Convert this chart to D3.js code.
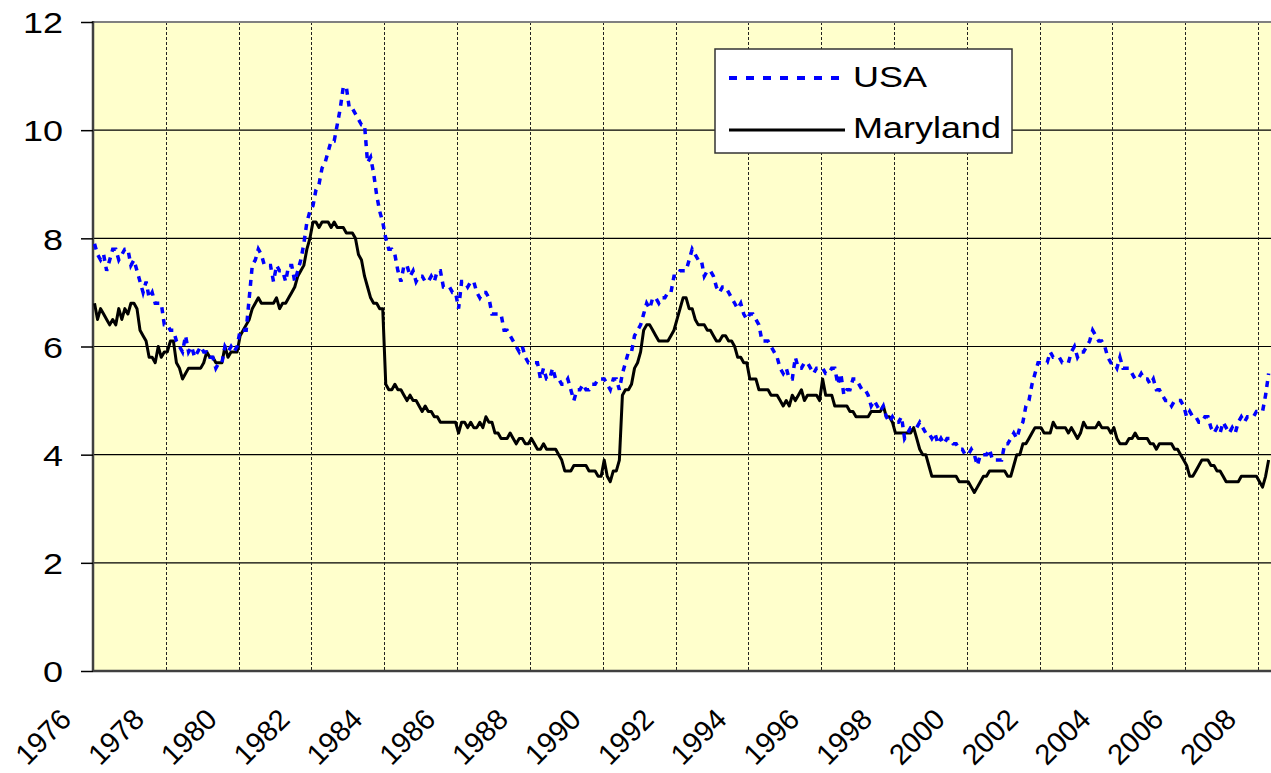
<!DOCTYPE html>
<html lang="en">
<head>
<meta charset="UTF-8">
<title>Unemployment rate: USA vs Maryland</title>
<script src="https://d3js.org/d3.v7.min.js"></script>
<style>
  body { margin: 0; background: #fff; }
  svg { display: block; font-family: "Liberation Sans", Arial, sans-serif; }
</style>
</head>
<body>
<svg id="chart" width="1271" height="773"></svg>
<script>
// monthly rates, Jan 1976 .. Apr 2008
const startYear = 1976;

const usaRate = [
  7.9,7.7,7.6,7.7,7.4,7.6,7.8,7.8,7.6,7.7,7.8,7.8,
  7.5,7.6,7.4,7.2,7.0,7.2,6.9,7.0,6.8,6.8,6.8,6.4,
  6.4,6.3,6.3,6.1,6.0,5.9,6.2,5.9,6.0,5.8,5.9,6.0,
  5.9,5.9,5.8,5.8,5.6,5.7,5.7,6.0,5.9,6.0,5.9,6.0,
  6.3,6.3,6.3,6.9,7.5,7.6,7.8,7.7,7.5,7.5,7.5,7.2,
  7.5,7.4,7.4,7.2,7.5,7.5,7.2,7.4,7.6,7.9,8.3,8.5,
  8.6,8.9,9.0,9.3,9.4,9.6,9.8,9.8,10.1,10.4,10.8,10.8,
  10.4,10.4,10.3,10.2,10.1,10.1,9.4,9.5,9.2,8.8,8.5,8.3,
  8.0,7.8,7.8,7.7,7.4,7.2,7.5,7.5,7.3,7.4,7.2,7.3,
  7.3,7.2,7.2,7.3,7.2,7.4,7.4,7.1,7.1,7.1,7.0,7.0,
  6.7,7.2,7.2,7.1,7.2,7.2,7.0,6.9,7.0,7.0,6.9,6.6,
  6.6,6.6,6.6,6.3,6.3,6.2,6.1,6.0,5.9,6.0,5.8,5.7,
  5.7,5.7,5.7,5.4,5.6,5.4,5.4,5.6,5.4,5.4,5.3,5.3,
  5.4,5.2,5.0,5.2,5.2,5.3,5.2,5.2,5.3,5.3,5.4,5.4,
  5.4,5.3,5.2,5.4,5.4,5.2,5.5,5.7,5.9,5.9,6.2,6.3,
  6.4,6.6,6.8,6.7,6.9,6.9,6.8,6.9,6.9,7.0,7.0,7.3,
  7.3,7.4,7.4,7.4,7.6,7.8,7.7,7.6,7.6,7.3,7.4,7.4,
  7.3,7.1,7.0,7.1,7.1,7.0,6.9,6.8,6.7,6.8,6.6,6.5,
  6.6,6.6,6.5,6.4,6.1,6.1,6.1,6.0,5.9,5.8,5.6,5.5,
  5.6,5.4,5.4,5.8,5.6,5.6,5.7,5.7,5.6,5.5,5.6,5.6,
  5.6,5.5,5.5,5.6,5.6,5.3,5.5,5.1,5.2,5.2,5.4,5.4,
  5.3,5.2,5.2,5.1,4.9,5.0,4.9,4.8,4.9,4.7,4.6,4.7,
  4.6,4.6,4.7,4.3,4.4,4.5,4.5,4.5,4.6,4.5,4.4,4.4,
  4.3,4.4,4.2,4.3,4.2,4.3,4.3,4.2,4.2,4.1,4.1,4.0,
  4.0,4.1,4.0,3.8,4.0,4.0,4.0,4.1,3.9,3.9,3.9,3.9,
  4.2,4.2,4.3,4.4,4.3,4.5,4.6,4.9,5.0,5.3,5.5,5.7,
  5.7,5.7,5.7,5.9,5.8,5.8,5.8,5.7,5.7,5.7,5.9,6.0,
  5.8,5.9,5.9,6.0,6.1,6.3,6.2,6.1,6.1,6.0,5.8,5.7,
  5.7,5.6,5.8,5.6,5.6,5.6,5.5,5.4,5.4,5.5,5.4,5.4,
  5.3,5.4,5.2,5.2,5.1,5.0,5.0,4.9,5.0,5.0,5.0,4.9,
  4.7,4.8,4.7,4.7,4.6,4.6,4.7,4.7,4.5,4.4,4.5,4.4,
  4.6,4.5,4.4,4.5,4.4,4.6,4.7,4.6,4.7,4.7,4.7,4.8,
  4.8,4.8,5.1,5.5
];

const mdRate = [
  6.8,6.5,6.7,6.6,6.5,6.4,6.5,6.4,6.7,6.5,6.7,6.6,
  6.8,6.8,6.7,6.3,6.2,6.1,5.8,5.8,5.7,6.0,5.8,5.9,
  5.9,6.1,6.1,5.7,5.6,5.4,5.5,5.6,5.6,5.6,5.6,5.6,
  5.7,5.9,5.8,5.8,5.7,5.7,5.7,6.0,5.8,5.9,5.9,5.9,
  6.2,6.3,6.4,6.5,6.7,6.8,6.9,6.8,6.8,6.8,6.8,6.8,
  6.9,6.7,6.8,6.8,6.9,7.0,7.1,7.3,7.4,7.5,7.8,8.0,
  8.3,8.3,8.2,8.3,8.3,8.3,8.2,8.3,8.2,8.2,8.2,8.1,
  8.1,8.1,8.0,7.7,7.6,7.3,7.1,6.9,6.8,6.8,6.7,6.7,
  5.3,5.2,5.2,5.3,5.2,5.2,5.1,5.0,5.1,5.0,5.0,4.9,
  4.8,4.9,4.8,4.8,4.7,4.7,4.6,4.6,4.6,4.6,4.6,4.6,
  4.4,4.6,4.6,4.5,4.6,4.5,4.5,4.6,4.5,4.7,4.6,4.6,
  4.4,4.4,4.3,4.3,4.3,4.4,4.3,4.2,4.3,4.3,4.2,4.2,
  4.3,4.2,4.1,4.1,4.2,4.1,4.1,4.1,4.1,4.0,3.9,3.7,
  3.7,3.7,3.8,3.8,3.8,3.8,3.8,3.7,3.7,3.7,3.6,3.6,
  3.9,3.6,3.5,3.7,3.7,3.9,5.1,5.2,5.2,5.3,5.6,5.7,
  5.9,6.3,6.4,6.4,6.3,6.2,6.1,6.1,6.1,6.1,6.2,6.3,
  6.5,6.7,6.9,6.9,6.7,6.7,6.5,6.4,6.4,6.4,6.3,6.3,
  6.2,6.1,6.1,6.2,6.2,6.1,6.1,6.0,5.8,5.8,5.7,5.7,
  5.4,5.4,5.4,5.2,5.2,5.2,5.2,5.1,5.1,5.1,5.0,4.9,
  5.0,4.9,5.1,5.0,5.1,5.2,5.0,5.1,5.1,5.1,5.1,5.0,
  5.4,5.1,5.1,5.1,4.9,4.9,4.9,4.9,4.9,4.8,4.8,4.7,
  4.7,4.7,4.7,4.7,4.8,4.8,4.8,4.8,4.9,4.7,4.7,4.6,
  4.4,4.4,4.4,4.4,4.4,4.4,4.5,4.3,4.1,4.0,4.0,3.8,
  3.6,3.6,3.6,3.6,3.6,3.6,3.6,3.6,3.6,3.5,3.5,3.5,
  3.5,3.4,3.3,3.4,3.5,3.6,3.6,3.7,3.7,3.7,3.7,3.7,
  3.7,3.6,3.6,3.8,4.0,4.0,4.2,4.2,4.3,4.4,4.5,4.5,
  4.5,4.4,4.4,4.4,4.6,4.5,4.5,4.5,4.5,4.4,4.5,4.4,
  4.3,4.4,4.6,4.5,4.5,4.5,4.5,4.6,4.5,4.5,4.5,4.4,
  4.5,4.3,4.2,4.2,4.2,4.3,4.3,4.4,4.3,4.3,4.3,4.3,
  4.2,4.2,4.1,4.2,4.2,4.2,4.2,4.2,4.1,4.1,4.0,3.9,
  3.8,3.6,3.6,3.7,3.8,3.9,3.9,3.9,3.8,3.8,3.7,3.7,
  3.6,3.5,3.5,3.5,3.5,3.5,3.6,3.6,3.6,3.6,3.6,3.6,
  3.5,3.4,3.6,3.9
];

const yearTicks = d3.range(1976, 2009, 2);
const rateTicks = [0, 2, 4, 6, 8, 10, 12];
const seriesNames = ["USA", "Maryland"];

const plotLeft = 93, plotTop = 22, plotBottom = 671, plotRight = 1271;

const svg = d3.select("#chart");

var x = d3.scaleLinear().domain([1976, 2008]).range([plotLeft, 1258]);
var y = d3.scaleLinear().domain([0, 12]).range([plotBottom, plotTop]);

// plot area
svg.append("rect")
  .attr("x", plotLeft).attr("y", plotTop)
  .attr("width", plotRight - plotLeft).attr("height", plotBottom - plotTop)
  .attr("fill", "#ffffcc");

svg.append("clipPath").attr("id", "plotclip")
  .append("rect")
  .attr("x", plotLeft).attr("y", plotTop)
  .attr("width", plotRight - plotLeft).attr("height", plotBottom - plotTop);

// horizontal gridlines
svg.append("g").selectAll("line")
  .data(rateTicks.filter(d => d > 0 && d < 12))
  .enter().append("line")
  .attr("x1", plotLeft).attr("x2", plotRight)
  .attr("y1", d => y(d)).attr("y2", d => y(d))
  .attr("stroke", "#000").attr("stroke-width", 1.2);

// vertical dashed gridlines
svg.append("g").selectAll("line")
  .data(yearTicks.filter(d => d > 1976))
  .enter().append("line")
  .attr("x1", d => Math.round(x(d)) + 0.5).attr("x2", d => Math.round(x(d)) + 0.5)
  .attr("y1", plotTop).attr("y2", plotBottom)
  .attr("stroke", "#222").attr("stroke-width", 1)
  .attr("stroke-dasharray", "3,2");

// frame: top edge, left and bottom axes
svg.append("line").attr("x1", plotLeft).attr("x2", plotRight).attr("y1", plotTop).attr("y2", plotTop)
  .attr("stroke", "#808080").attr("stroke-width", 2);
svg.append("line").attr("x1", plotLeft).attr("x2", plotRight).attr("y1", plotBottom).attr("y2", plotBottom)
  .attr("stroke", "#404040").attr("stroke-width", 2.5);
svg.append("line").attr("x1", plotLeft).attr("x2", plotLeft).attr("y1", plotTop - 1).attr("y2", plotBottom + 1)
  .attr("stroke", "#404040").attr("stroke-width", 2.5);

// y axis ticks and labels
var yAxis = svg.append("g")
  .attr("transform", "translate(" + plotLeft + ",0)")
  .call(d3.axisLeft(y).tickValues(rateTicks).tickSize(12).tickSizeOuter(0).tickFormat(d3.format("d")));
yAxis.select(".domain").remove();
yAxis.selectAll(".tick line").attr("stroke", "#000").attr("stroke-width", 1.5);
yAxis.selectAll(".tick text")
  .attr("x", -25).attr("dy", "0.36em")
  .attr("transform", "scale(1.2,1)")
  .attr("fill", "#000")
  .style("font-size", "30px")
  .style("font-family", "'Liberation Sans', Arial, sans-serif");

// x labels, rotated
svg.append("g").selectAll("text")
  .data(yearTicks)
  .enter().append("text")
  .attr("transform", d => "translate(" + (x(d) - 20) + ",721) rotate(-45)")
  .attr("text-anchor", "end")
  .style("font-size", "29px")
  .attr("fill", "#000")
  .text(d => d);

// series lines
const line = d3.line()
  .x((d, i) => x(startYear + (i + 0.5) / 12))
  .y(d => y(d));

var lines = svg.append("g").attr("clip-path", "url(#plotclip)");

lines.append("path")
  .datum(mdRate)
  .attr("d", line)
  .attr("fill", "none")
  .attr("stroke", "#000")
  .attr("stroke-width", 3)
  .attr("stroke-linejoin", "round");

lines.append("path")
  .datum(usaRate)
  .attr("d", line)
  .attr("fill", "none")
  .attr("stroke", "#0000ff")
  .attr("stroke-width", 3.5)
  .attr("stroke-dasharray", "6,6");

// legend
var legend = svg.append("g");
legend.append("rect")
  .attr("x", 715).attr("y", 49).attr("width", 297).attr("height", 104)
  .attr("fill", "#fff").attr("stroke", "#333").attr("stroke-width", 1.5);

legend.append("line")
  .attr("x1", 729).attr("x2", 840).attr("y1", 78).attr("y2", 78)
  .attr("stroke", "#0000ff").attr("stroke-width", 4).attr("stroke-dasharray", "8,9");
legend.append("line")
  .attr("x1", 729).attr("x2", 845).attr("y1", 130).attr("y2", 130)
  .attr("stroke", "#000").attr("stroke-width", 3);

legend.selectAll("text")
  .data(seriesNames)
  .enter().append("text")
  .attr("x", 853)
  .attr("y", (d, i) => 87 + i * 51)
  .attr("textLength", (d, i) => i == 0 ? 74 : 148)
  .attr("lengthAdjust", "spacingAndGlyphs")
  .style("font-size", "30px")
  .attr("fill", "#000")
  .text(d => d);
</script>
</body>
</html>
